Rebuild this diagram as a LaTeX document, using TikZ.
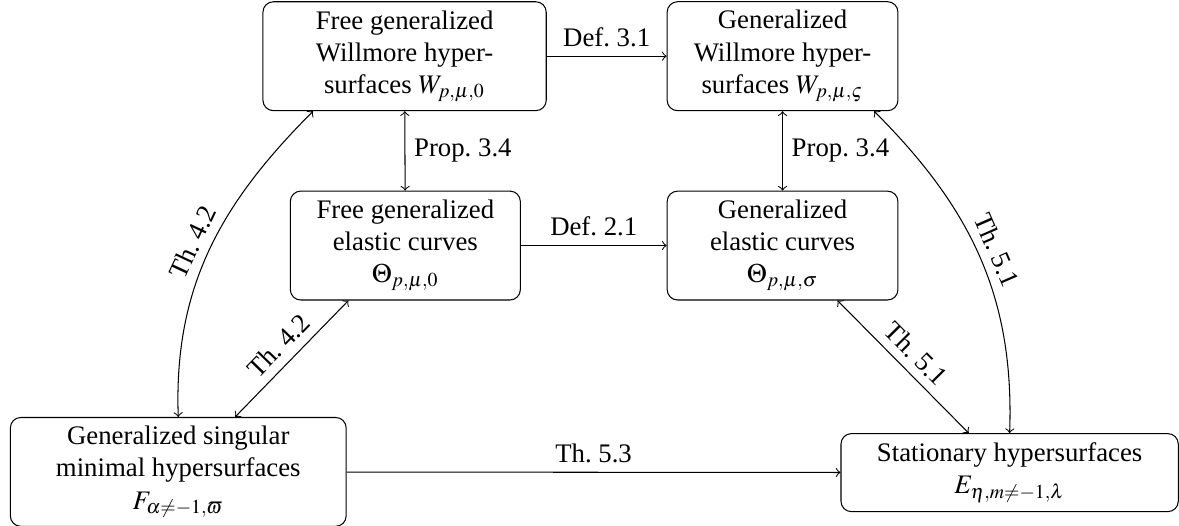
\documentclass[tikz,border=0pt]{standalone}
\usepackage{mathptmx}
\usepackage[no-math]{fontspec}
\setmainfont{Liberation Serif}
\frenchspacing
\begin{document}
\begin{tikzpicture}[
        class/.style={rectangle, draw, rounded corners, align=center, font=\fontsize{10.3pt}{12.4pt}\selectfont, minimum height=1.45cm},
        edge_label/.style={font=\fontsize{10.3pt}{12.4pt}\selectfont, midway}
    ]
        \useasboundingbox (0,0) rectangle (15.94,-7.11);

        % Willmore hypersurfaces (top row)
        \node[class, minimum width=3.83cm] (free_willmore) at (5.47,-0.76) {Free generalized\\ Willmore hyper-\\ surfaces $W_{p,\mu,0}$};
        \node[class, minimum width=3.12cm] (gen_willmore) at (10.58,-0.76) {Generalized\\ Willmore hyper-\\ surfaces $W_{p,\mu,\varsigma}$};

        % Elastic curves (middle row)
        \node[class, minimum width=3.11cm] (free_elastic) at (5.48,-3.32) {Free generalized\\ elastic curves\\ $\Theta_{p,\mu,0}$};
        \node[class, minimum width=3.12cm] (gen_elastic) at (10.58,-3.32) {Generalized\\ elastic curves\\ $\Theta_{p,\mu,\sigma}$};

        % Bottom row
        \node[class, minimum width=4.54cm, minimum height=1.41cm] (singular_min) at (2.41,-6.38) {Generalized singular\\ minimal hypersurfaces\\ $F_{\alpha\neq-1,\varpi}$};
        \node[class, minimum width=4.56cm, minimum height=1.01cm] (stationary) at (13.65,-6.39) {Stationary hypersurfaces\\ $E_{\eta,m\neq-1,\lambda}$};

        % Horizontal arrows
        \draw[->] (free_willmore) -- (gen_willmore) node[edge_label, above] {Def. 3.1};
        \draw[->] (free_elastic) -- (gen_elastic) node[edge_label, above] {Def. 2.1};
        \draw[->] (singular_min) -- (stationary) node[edge_label, above] {Th. 5.3};

        % Vertical arrows
        \draw[<->] (free_willmore) -- (free_elastic) node[edge_label, right] {Prop. 3.4};
        \draw[<->] (gen_willmore) -- (gen_elastic) node[edge_label, right] {Prop. 3.4};

        % Diagonals
        \draw[<->] (singular_min.44) -- (free_elastic.224) node[edge_label, sloped, above] {Th. 4.2};
        \draw[<->] (gen_elastic.-45) -- (stationary.136) node[edge_label, sloped, above] {Th. 5.1};

        % Outer curves
        \draw[<->] (singular_min.north) to[out=92, in=225] node[edge_label, sloped, above] {Th. 4.2} (free_willmore.211);
        \draw[<->] (gen_willmore.-31) to[out=-45, in=88] node[edge_label, sloped, above] {Th. 5.1} (stationary.north);

    \end{tikzpicture}
\end{document}
